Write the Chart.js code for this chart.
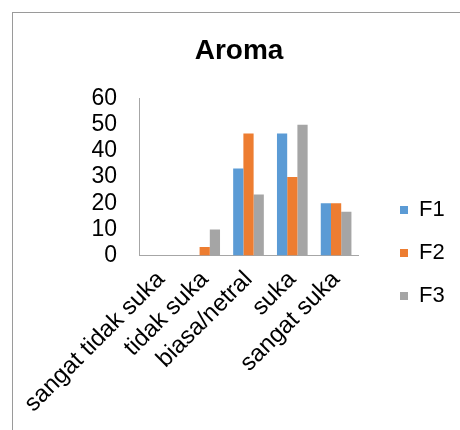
<!DOCTYPE html>
<html>
<head>
<meta charset="utf-8">
<script src="https://cdn.jsdelivr.net/npm/chart.js@4/dist/chart.umd.min.js"></script>
<style>
  html, body { margin: 0; padding: 0; background: #fff; overflow: hidden; }
  #wrap { position: relative; width: 460px; height: 430px; overflow: hidden; }
  #frame { position: absolute; left: 12px; top: 12px; width: 520px; height: 500px; border: 1px solid #9a9a9a; box-sizing: border-box; }
  #chart { position: absolute; left: 0; top: 0; }
</style>
</head>
<body>
<div id="wrap">
  <div id="frame"></div>
  <canvas id="chart" width="460" height="430"></canvas>
</div>
<script>
// Preference categories on the x axis
const categories = ['sangat tidak suka', 'tidak suka', 'biasa/netral', 'suka', 'sangat suka'];
// Series names and their values (percent of panelists)
const seriesNames = ['F1', 'F2', 'F3'];
const valuesF1 = [0, 0, 33.3, 46.7, 20];
const valuesF2 = [0, 3.3, 46.7, 30, 20];
const valuesF3 = [0, 10, 23.3, 50, 16.7];
// Value axis ticks
const yMin = 0;
const yMax = 60;
const yStep = 10;

const seriesColors = ['#5B9BD5', '#ED7D31', '#A5A5A5'];
const seriesValues = [valuesF1, valuesF2, valuesF3];

Chart.defaults.font.family = '"Liberation Sans", Arial, sans-serif';
Chart.defaults.color = '#000';

new Chart(document.getElementById('chart'), {
  type: 'bar',
  data: {
    labels: categories,
    datasets: seriesNames.map((name, i) => ({
      label: name,
      data: seriesValues[i],
      backgroundColor: seriesColors[i],
      borderWidth: 0,
      categoryPercentage: 0.7,
      barPercentage: 1
    }))
  },
  options: {
    responsive: false,
    animation: false,
    layout: { padding: { left: 29, right: 11, top: 0, bottom: 2 } },
    plugins: {
      tooltip: { enabled: false },
      title: {
        display: true,
        text: 'Aroma',
        color: '#000',
        font: { size: 28, weight: 'bold' },
        padding: { top: 34, bottom: 31 }
      },
      legend: {
        position: 'right',
        align: 'start',
        title: {
          display: true,
          text: '',
          font: { size: 12, lineHeight: 1 },
          padding: { top: 166, bottom: 0 }
        },
        labels: {
          boxWidth: 8,
          boxHeight: 8,
          padding: 21,
          color: '#000',
          font: { size: 22 }
        }
      }
    },
    scales: {
      x: {
        grid: { display: false, drawTicks: false },
        border: { display: true, color: '#a6a6a6', width: 1 },
        ticks: {
          autoSkip: false,
          minRotation: 45,
          maxRotation: 45,
          padding: 10,
          color: '#000',
          font: { size: 24 }
        }
      },
      y: {
        min: yMin,
        max: yMax,
        grid: { display: false, drawTicks: false },
        border: { display: true, color: '#a6a6a6', width: 1 },
        ticks: {
          stepSize: yStep,
          autoSkip: false,
          padding: 22,
          color: '#000',
          font: { size: 23 }
        },
        afterFit(scale) { scale.width = 110; }
      },
      // empty spacer between the plot and the legend
      y2: {
        position: 'right',
        grid: { display: false, drawTicks: false },
        border: { display: false },
        ticks: { display: false },
        afterFit(scale) { scale.width = 21; }
      }
    }
  }
});
</script>
</body>
</html>
